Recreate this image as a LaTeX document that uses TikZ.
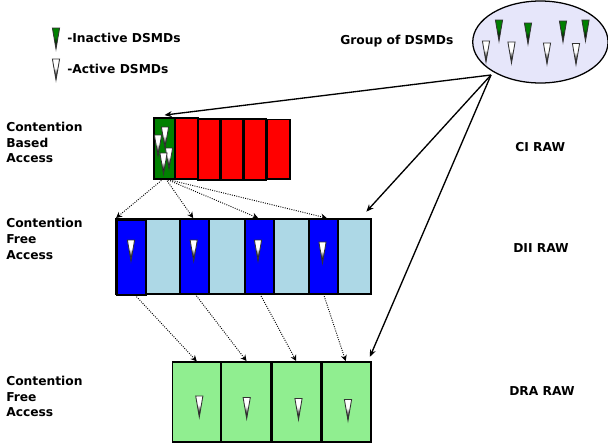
\documentclass[tikz,border=0pt]{standalone}
\usepackage{fontspec}
\setmainfont{DejaVu Sans}
\usetikzlibrary{arrows.meta,shapes.geometric}
\definecolor{inact}{RGB}{0,128,0}
\definecolor{dsmdfill}{RGB}{230,230,250}
\definecolor{lightb}{RGB}{173,216,230}
\definecolor{paleg}{RGB}{144,238,144}
\tikzset{
  lbl/.style={font=\bfseries\fontsize{9.2}{10}\selectfont,inner sep=0pt,anchor=west,text=black},
  slot/.style={draw=black,line width=0.95pt,inner sep=0pt,outer sep=0pt},
  feed/.style={-{Stealth[length=5.5pt,width=4.5pt]},line width=1pt,black},
  grant/.style={-{Stealth[length=4.5pt,width=4.5pt]},line width=0.7pt,densely dotted,black},
  pics/dsmd/.style={code={
    \fill[#1] (-3.6,0) -- (3.6,0) -- (2.06,9) -- (-2.06,9) -- cycle;
    \shade[top color=#1,bottom color=black] (-2.06,8.8) -- (2.06,8.8) -- (0.7,17) -- (-0.7,17) -- cycle;
    \fill[black] (-0.75,16.8) -- (0.75,16.8) -- (0,21) -- cycle;
    \draw[black!80,line width=0.65pt,line join=miter] (-3.6,0) -- (3.6,0) -- (0,21) -- cycle;
  }}
}
\newcommand{\slotbox}[7]{% name, fill, x0, y0, x1, y1, extra
  \node[slot,fill=#2,minimum width={(#5-#3)*0.75pt},minimum height={(#6-#4)*0.75pt},#7]
    (#1) at ({(#3+#5)/2},{(#4+#6)/2}) {};
}
\begin{document}
\begin{tikzpicture}[x=0.75pt,y=-0.75pt]
\useasboundingbox (0,0) rectangle (608,446);
% legend
\pic at (56,28) {dsmd=inact};
\pic at (56,59) {dsmd=white};
\node[lbl] (legi) at (67,38) {-Inactive DSMDs};
\node[lbl] (lega) at (67,69) {-Active DSMDs};
% group
\node[draw=black,line width=0.95pt,fill=dsmdfill,ellipse,minimum width=101.5pt,minimum height=61.5pt,inner sep=0pt] (grp) at (540.4,42) {};
\node[lbl] (grpl) at (340,41) {Group of DSMDs};
\foreach \x/\y in {499/20,528/23,563/21,585.5/20}{\pic at (\x,\y) {dsmd=inact};}
\foreach \x/\y in {486/41,511.5/42,547/43,576/43.5}{\pic at (\x,\y) {dsmd=white};}
% CI RAW
\slotbox{r5}{red}{267}{119.5}{290}{179}{}
\slotbox{r4}{red}{244}{119}{266}{180}{}
\slotbox{r3}{red}{221}{119}{243}{180}{}
\slotbox{r2}{red}{198}{119}{220}{180}{}
\slotbox{r1}{red}{175}{118}{198}{179}{}
\slotbox{cb}{inact}{154}{118}{175}{179}{}
\foreach \x/\y in {165/127,158/135,169/148,163.5/153}{\pic at (\x,\y) {dsmd=white};}
% DII RAW
\slotbox{l1}{lightb}{116}{219}{180}{294}{}
\slotbox{l2}{lightb}{180}{219}{245}{294}{}
\slotbox{l3}{lightb}{245}{219}{309}{294}{}
\slotbox{l4}{lightb}{309}{219}{371}{294}{}
\slotbox{b1}{blue}{117}{220}{146}{295}{}
\slotbox{b2}{blue}{180}{219}{209}{294}{}
\slotbox{b3}{blue}{245}{219}{274}{294}{}
\slotbox{b4}{blue}{309}{219}{338}{294}{}
\foreach \x/\y in {131/240,193.7/240,258/240,322.5/242}{\pic at (\x,\y) {dsmd=white};}
% DRA RAW
\slotbox{g1}{paleg}{172.5}{362}{221}{442}{}
\slotbox{g2}{paleg}{221.5}{362}{270.5}{442}{}
\slotbox{g3}{paleg}{272}{362}{321}{442}{}
\slotbox{g4}{paleg}{322}{362}{371}{442}{}
\foreach \x/\y in {199.3/396,246.7/397.5,298.5/398.5,348/399.5}{\pic at (\x,\y) {dsmd=white};}
% labels
\node[lbl,align=left,anchor=north west,font=\bfseries\fontsize{9.2}{11.7}\selectfont] (t1) at (6,122) {Contention\\Based\\Access};
\node[lbl,align=left,anchor=north west,font=\bfseries\fontsize{9.2}{12}\selectfont] (t2) at (6,218) {Contention\\Free\\Access};
\node[lbl,align=left,anchor=north west,font=\bfseries\fontsize{9.2}{11.7}\selectfont] (t3) at (6,376) {Contention\\Free\\Access};
\node[lbl] (ci) at (515,147) {CI RAW};
\node[lbl] (dii) at (513,248.5) {DII RAW};
\node[lbl] (dra) at (509,391.5) {DRA RAW};
% solid feeds
\coordinate (hub) at (491,75);
\draw[feed] (hub) -- ([yshift=2.2pt]cb.north);
\draw[feed] (hub) -- ([xshift=-3.5pt,yshift=5.5pt]l4.north east);
\draw[feed] (hub) -- ([xshift=-0.8pt,yshift=3.9pt]g4.north east);
% dotted grants
\draw[grant] ([xshift=-1pt]cb.south) -- ([xshift=-0.7pt,yshift=1.5pt]b1.north west);
\draw[grant] ([xshift=1pt]cb.south) -- ([xshift=-1pt,yshift=0.7pt]b2.north);
\draw[grant] ([xshift=1pt]cb.south) -- ([xshift=-1pt,yshift=0.7pt]b3.north);
\draw[grant] ([xshift=1pt]cb.south) -- ([xshift=2.5pt,yshift=0.7pt]b4.north);
\draw[grant] ([xshift=2.6pt]b1.south) -- ([xshift=0pt,yshift=0.5pt]g1.north);
\draw[grant] ([xshift=0.4pt]b2.south) -- ([xshift=0.4pt,yshift=0.7pt]g2.north);
\draw[grant] ([xshift=0.4pt]b3.south) -- ([xshift=-0.2pt,yshift=0.7pt]g3.north);
\draw[grant] ([xshift=0pt]b4.south) -- ([xshift=-0.6pt,yshift=0.7pt]g4.north);
\end{tikzpicture}
\end{document}
